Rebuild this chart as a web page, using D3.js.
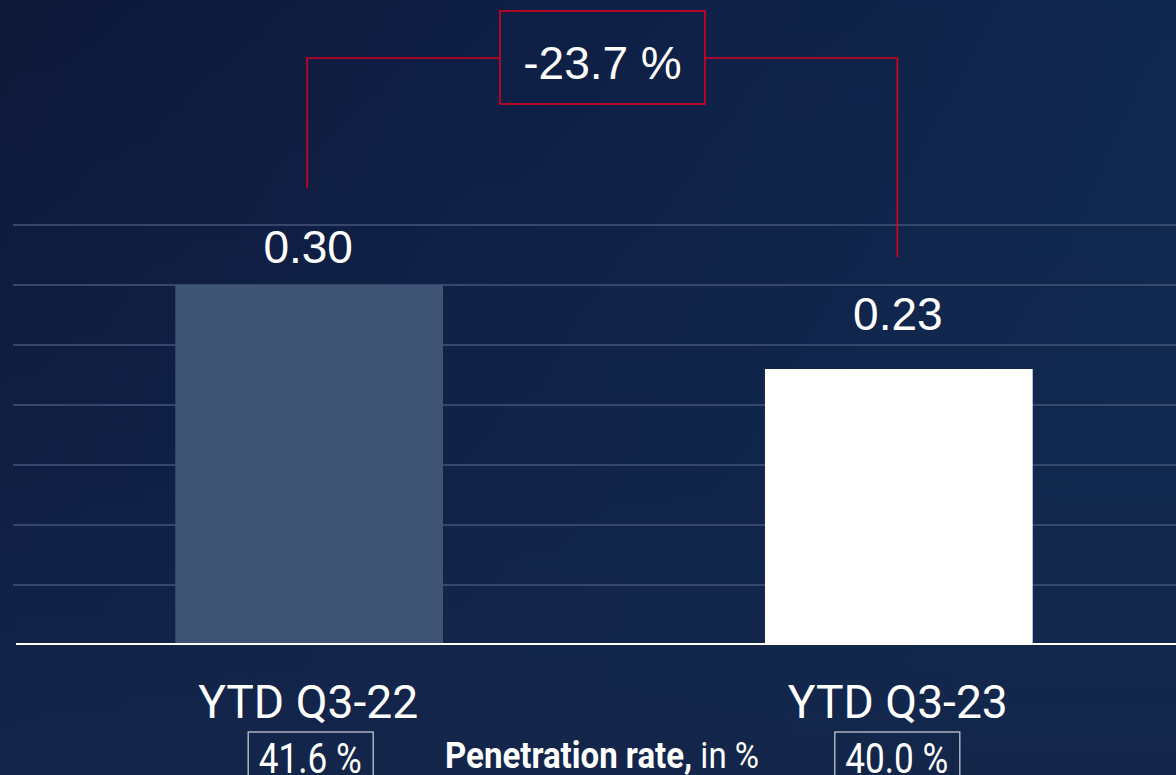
<!DOCTYPE html>
<html>
<head>
<meta charset="utf-8">
<script src="https://cdn.jsdelivr.net/npm/d3@7/dist/d3.min.js"></script>
<style>
  html, body { margin: 0; padding: 0; background: #0f1d42; overflow: hidden; }
  svg { display: block; }
</style>
</head>
<body>
<svg id="chart" width="1176" height="775"></svg>
<script>
// ---- data ----
const categories = ["YTD Q3-22", "YTD Q3-23"];
const values = [0.30, 0.23];
const valueLabels = ["0.30", "0.23"];
const penetrationRates = ["41.6 %", "40.0 %"];
const changeLabel = "-23.7 %";
const gridTicks = [0.05, 0.10, 0.15, 0.20, 0.25, 0.30, 0.35];
const footerBold = "Penetration rate,";
const footerRegular = " in %";

// ---- layout ----
const W = 1176, H = 775;
const svg = d3.select("#chart");
const defs = svg.append("defs");

const g1 = defs.append("linearGradient").attr("id", "bgH")
  .attr("x1", "0").attr("y1", "0").attr("x2", "1").attr("y2", "0.35");
g1.append("stop").attr("offset", "0").attr("stop-color", "#0d1839");
g1.append("stop").attr("offset", "0.55").attr("stop-color", "#0f2148");
g1.append("stop").attr("offset", "1").attr("stop-color", "#102a50");

const g2 = defs.append("linearGradient").attr("id", "bgV")
  .attr("x1", "0").attr("y1", "0").attr("x2", "0").attr("y2", "1");
g2.append("stop").attr("offset", "0").attr("stop-color", "#14264c").attr("stop-opacity", 0);
g2.append("stop").attr("offset", "0.6").attr("stop-color", "#14264c").attr("stop-opacity", 0.3);
g2.append("stop").attr("offset", "1").attr("stop-color", "#14264a").attr("stop-opacity", 0.9);

svg.append("rect").attr("width", W).attr("height", H).attr("fill", "url(#bgH)");
svg.append("rect").attr("width", W).attr("height", H).attr("fill", "url(#bgV)");

const x = d3.scaleBand().domain(categories)
  .range([22, 1186]).paddingInner(0.546).paddingOuter(0.26);
const y = d3.scaleLinear().domain([0, 0.35]).range([645, 225]);

// gridlines
svg.append("g").selectAll("line").data(gridTicks).join("line")
  .attr("x1", 13).attr("x2", W)
  .attr("y1", d => y(d)).attr("y2", d => y(d))
  .attr("stroke", "#45557a").attr("stroke-width", 1.5);

// bars
const barColors = ["#3f5474", "#ffffff"];
svg.append("g").selectAll("rect").data(values).join("rect")
  .attr("x", (d, i) => x(categories[i]))
  .attr("width", x.bandwidth())
  .attr("y", d => y(d))
  .attr("height", d => y(0) - y(d))
  .attr("fill", (d, i) => barColors[i]);

// baseline
svg.append("line").attr("x1", 16).attr("x2", W)
  .attr("y1", y(0) - 1).attr("y2", y(0) - 1)
  .attr("stroke", "#ffffff").attr("stroke-width", 2);

const cx = i => x(categories[i]) + x.bandwidth() / 2;

// value labels
const labelGap = [22, 39];
const labelY = values.map((v, i) => y(v) - labelGap[i]);
svg.append("g").selectAll("text").data(valueLabels).join("text")
  .attr("x", (d, i) => cx(i) - 1)
  .attr("y", (d, i) => labelY[i])
  .attr("text-anchor", "middle")
  .attr("font-family", "'Liberation Sans', Arial, sans-serif")
  .attr("font-size", 46)
  .attr("fill", "#ffffff")
  .text(d => d);

// change bracket
const red = "#d90020";
const topY = 58;
const xl = cx(0) - 2, xr = cx(1) - 1.5;
const boxX0 = 500, boxX1 = 705, boxY0 = 11, boxY1 = 104;
const br = svg.append("g").attr("fill", "none").attr("stroke", red).attr("stroke-width", 1.6);
br.append("path").attr("d", `M${xl},${labelY[0] - 75} V${topY} H${boxX0}`);
br.append("path").attr("d", `M${boxX1},${topY} H${xr} V${labelY[1] - 73}`);
br.append("rect").attr("x", boxX0).attr("y", boxY0)
  .attr("width", boxX1 - boxX0).attr("height", boxY1 - boxY0);
svg.append("text")
  .attr("x", (boxX0 + boxX1) / 2).attr("y", 79)
  .attr("text-anchor", "middle")
  .attr("font-family", "'Liberation Sans', Arial, sans-serif")
  .attr("font-size", 46).attr("fill", "#ffffff")
  .text(changeLabel);

// category labels
svg.append("g").selectAll("text").data(categories).join("text")
  .attr("x", (d, i) => cx(i) - 1)
  .attr("y", 718)
  .attr("text-anchor", "middle")
  .attr("font-family", "Roboto, sans-serif")
  .attr("font-size", 47)
  .attr("fill", "#ffffff")
  .attr("textLength", 220).attr("lengthAdjust", "spacingAndGlyphs")
  .text(d => d);

// penetration rate boxes
const pg = svg.append("g").selectAll("g").data(penetrationRates).join("g");
pg.append("rect")
  .attr("x", (d, i) => cx(i) - 62 + (i === 0 ? 1 : -2))
  .attr("y", 732).attr("width", 125).attr("height", 60)
  .attr("fill", "none").attr("stroke", "#d0d4dc").attr("stroke-width", 1.2);
pg.append("text")
  .attr("x", (d, i) => cx(i) + (i === 0 ? 1 : -2))
  .attr("y", 773)
  .attr("text-anchor", "middle")
  .attr("font-family", "Roboto, sans-serif")
  .attr("font-size", 42)
  .attr("fill", "#ffffff")
  .attr("textLength", 103).attr("lengthAdjust", "spacingAndGlyphs")
  .text(d => d);

// footer
const ft = svg.append("text")
  .attr("x", 445).attr("y", 768)
  .attr("font-family", "Roboto, sans-serif")
  .attr("font-size", 36).attr("fill", "#ffffff")
  .attr("textLength", 314).attr("lengthAdjust", "spacingAndGlyphs");
ft.append("tspan").attr("font-weight", "bold").text(footerBold);
ft.append("tspan").attr("font-weight", "normal").text(footerRegular);
</script>
</body>
</html>
